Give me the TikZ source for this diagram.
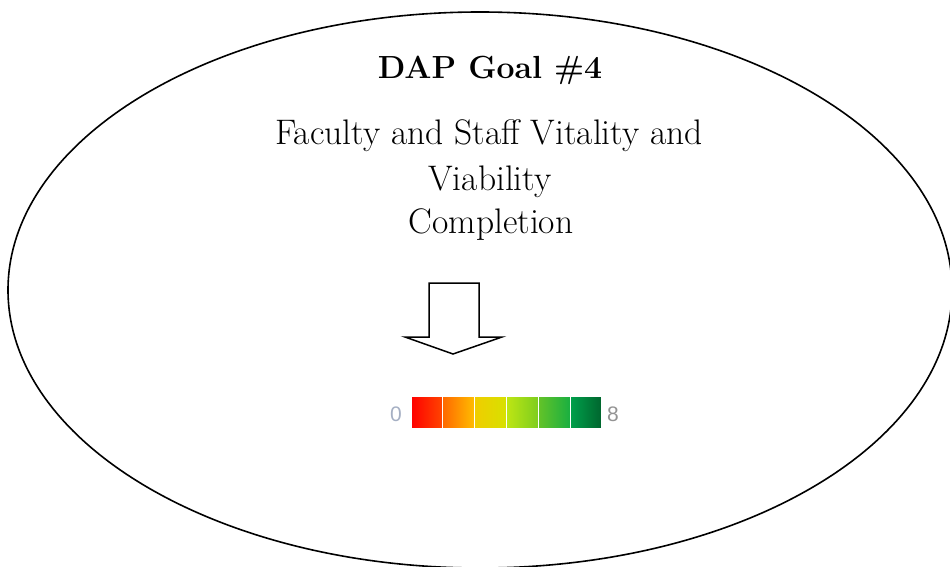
\documentclass[tikz,border=0pt]{standalone}
\usepackage{fontspec}
\setsansfont{Liberation Sans}
\begin{document}
\begin{tikzpicture}[x=1pt,y=-1pt,
  titletext/.style={font=\fontsize{32}{38}\selectfont\bfseries, anchor=base, inner sep=0pt},
  bodytext/.style={font=\fontsize{35.5}{42}\selectfont, anchor=base, inner sep=0pt},
  numtext/.style={font=\sffamily\fontsize{21}{24}\selectfont, text=gray!85, anchor=center, inner sep=0pt},
  cell/.style={draw=white, line width=1pt}
]
\useasboundingbox (0,0) rectangle (950,567);
\draw[line width=1.6pt] (480,290) ellipse [x radius=472, y radius=278];
\node[titletext] (title) at (490,79) {DAP Goal \#4};
\node[bodytext] (l1) at (489,145) {Faculty and Staff Vitality and};
\node[bodytext] (l2) at (490,190) {Viability};
\node[bodytext] (l3) at (491,233) {Completion};
\draw[line width=1.5pt, line join=miter] (429,283) -- (479,283) -- (479,337) -- (502,337) -- (453,354) -- (405,337) -- (429,337) -- cycle;
\definecolor{c1a}{RGB}{255,0,0}\definecolor{c1b}{RGB}{255,70,0}
\definecolor{c2a}{RGB}{255,105,0}\definecolor{c2b}{RGB}{255,190,0}
\definecolor{c3a}{RGB}{240,205,0}\definecolor{c3b}{RGB}{215,225,0}
\definecolor{c4a}{RGB}{190,230,20}\definecolor{c4b}{RGB}{125,205,30}
\definecolor{c5a}{RGB}{100,195,40}\definecolor{c5b}{RGB}{25,175,65}
\definecolor{c6a}{RGB}{0,160,75}\definecolor{c6b}{RGB}{0,100,45}
\definecolor{zerocol}{RGB}{165,175,195}
\foreach \i in {1,...,6}{
  \pgfmathsetmacro{\xa}{411+(\i-1)*31.83}
  \pgfmathsetmacro{\xb}{\xa+31.83}
  \fill[left color=c\i a, right color=c\i b, shading=axis] (\xa,396) rectangle (\xb,428);
  \draw[cell] (\xa,396) rectangle (\xb,428);
}
\node[numtext, text=zerocol] (zero) at (396,414) {0};
\node[numtext] (eight) at (613,414) {8};
\end{tikzpicture}
\end{document}
